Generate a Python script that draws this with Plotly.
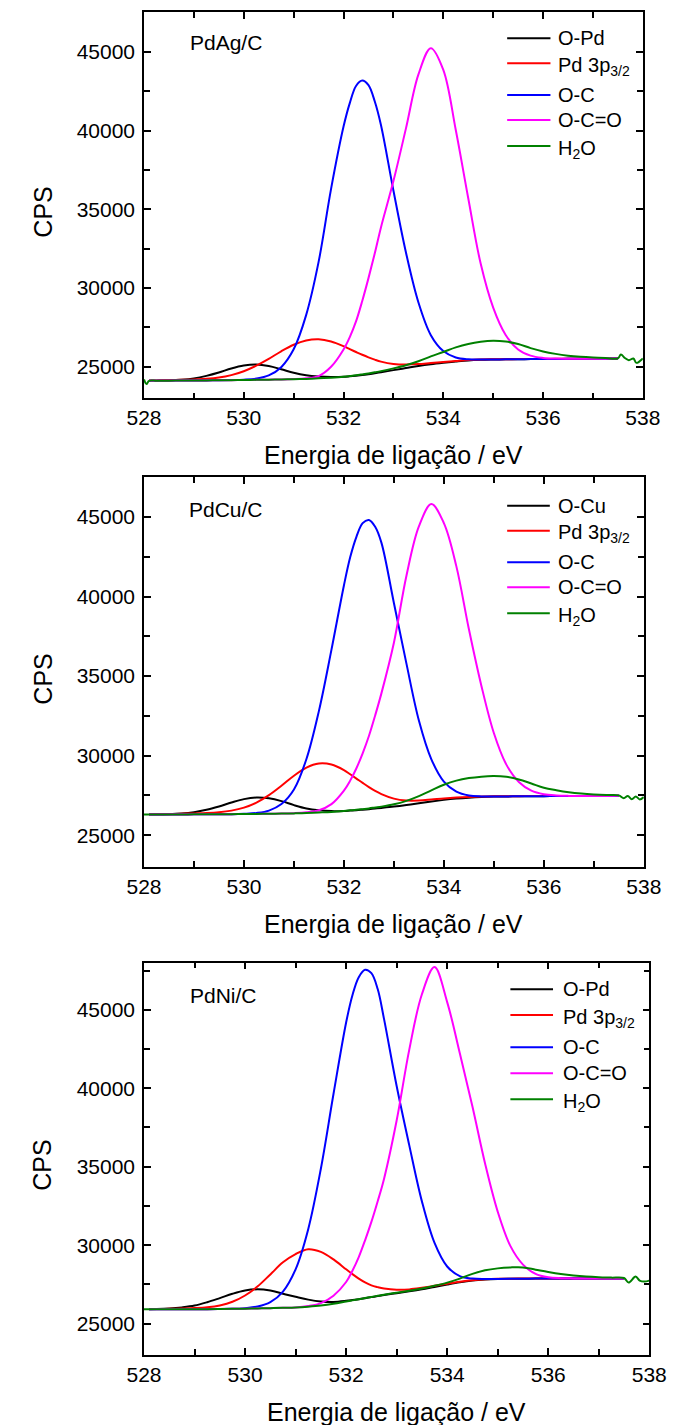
import numpy as np
import plotly.graph_objects as go

W, H = 685, 1425

# Binding energy grid (eV) shared by the fitted components
ENERGY = [528.1, 528.25, 528.5, 528.75, 529.0, 529.25, 529.5, 529.75, 530.0, 530.25,
          530.5, 530.75, 531.0, 531.25, 531.5, 531.75, 532.0,
          532.125, 532.25, 532.375, 532.5, 532.625, 532.75,
          533.0, 533.25, 533.5, 533.75, 534.0, 534.25, 534.5, 534.75, 535.0, 535.25,
          535.5, 535.75, 536.0, 536.25, 536.5, 536.75, 537.0, 537.25, 537.5]

# ---- PdAg/C : Shirley background and component intensities above it (CPS)
BG_PDAG = [24110, 24115, 24120, 24125, 24130, 24137, 24145, 24152, 24160, 24170,
           24180, 24195, 24210, 24232, 24260, 24300, 24350,
           24388, 24430, 24478, 24530, 24588, 24650,
           24790, 24920, 25050, 25160, 25250, 25330, 25400, 25440, 25460, 25472,
           25480, 25488, 25495, 25500, 25505, 25510, 25515, 25518, 25520]
OPD_PDAG = [2, 5, 18, 55, 135, 285, 490, 740, 920, 975,
            870, 650, 410, 230, 120, 50, 15,
            9, 5, 2, 0, 0, 0,
            0, 0, 0, 0, 0, 0, 0, 0, 0, 0,
            0, 0, 0, 0, 0, 0, 0, 0, 0]
PD3P_PDAG = [15, 20, 30, 45, 70, 100, 170, 320, 560, 900,
             1320, 1790, 2190, 2440, 2490, 2310, 1960,
             1735, 1510, 1285, 1070, 865, 680,
             390, 220, 120, 80, 55, 40, 30, 22, 15, 10,
             8, 6, 5, 4, 3, 2, 2, 1, 1]
OC_PDAG = [0, 0, 0, 0, 0, 0, 0, 5, 20, 80,
           270, 780, 1900, 4050, 7400, 12000, 15900,
           17350, 18400, 18700, 18350, 17270, 15700,
           11400, 7350, 4050, 1850, 750, 260, 75, 20, 5, 0,
           0, 0, 0, 0, 0, 0, 0, 0, 0]
OCO_PDAG = [0, 0, 0, 0, 0, 0, 0, 0, 0, 0,
            0, 0, 10, 40, 150, 700, 1750,
            2500, 3450, 4700, 6100, 7600, 9200,
            12000, 15200, 18500, 20070, 18600, 14700, 10300, 6100, 3300, 1550,
            620, 220, 70, 20, 5, 0, 0, 0, 0]
H2O_PDAG = [0, 0, 0, 0, 0, 0, 0, 0, 0, 0,
            0, 0, 0, 0, 5, 10, 20,
            25, 30, 40, 50, 62, 75,
            110, 180, 300, 500, 690, 900, 1050, 1150, 1190, 1130,
            970, 700, 480, 320, 200, 120, 70, 40, 20]
EDGE_L_X_PDAG = [528.0, 528.05]
EDGE_L_Y_PDAG = [24200, 23900]
EDGE_R_X_PDAG = [537.56, 537.64, 537.72, 537.81, 537.87, 538.0]
EDGE_R_Y_PDAG = [25780, 25560, 25420, 25530, 25250, 25530]

# ---- PdCu/C
BG_PDCU = [26300, 26300, 26303, 26306, 26310, 26314, 26318, 26323, 26330, 26337,
           26345, 26356, 26370, 26390, 26415, 26450, 26500,
           26530, 26560, 26597, 26635, 26675, 26715,
           26800, 26900, 27010, 27120, 27220, 27300, 27360, 27400, 27425, 27437,
           27445, 27450, 27455, 27458, 27461, 27464, 27467, 27470, 27472]
OCU_PDCU = [3, 7, 21, 59, 139, 282, 490, 731, 936, 1029,
            971, 787, 520, 290, 150, 65, 25,
            17, 10, 6, 3, 1, 0,
            0, 0, 0, 0, 0, 0, 0, 0, 0, 0,
            0, 0, 0, 0, 0, 0, 0, 0, 0]
PD3P_PDCU = [20, 25, 30, 40, 60, 80, 125, 220, 400, 710,
             1170, 1750, 2370, 2860, 3090, 2990, 2590,
             2300, 2000, 1690, 1390, 1110, 870,
             500, 280, 170, 120, 90, 65, 45, 30, 20, 15,
             10, 8, 6, 5, 4, 3, 2, 2, 1]
OC_PDCU = [0, 0, 0, 0, 0, 0, 0, 0, 15, 60,
           200, 600, 1500, 3400, 6400, 10200, 14200,
           15940, 17200, 18020, 18180, 17720, 16680,
           12800, 8900, 5200, 2650, 1150, 440, 140, 40, 10, 0,
           0, 0, 0, 0, 0, 0, 0, 0, 0]
OCO_PDCU = [0, 0, 0, 0, 0, 0, 0, 0, 0, 0,
            0, 0, 15, 50, 150, 500, 1300,
            1900, 2650, 3550, 4600, 5850, 7200,
            10300, 14400, 17400, 18700, 17400, 14600, 10600, 7000, 4000, 2000,
            900, 350, 120, 40, 10, 0, 0, 0, 0]
H2O_PDCU = [0, 0, 0, 0, 0, 0, 0, 0, 0, 0,
            0, 0, 0, 0, 10, 15, 25,
            30, 35, 42, 50, 65, 80,
            140, 260, 450, 700, 950, 1130, 1230, 1280, 1290, 1230,
            1060, 800, 530, 370, 240, 150, 90, 50, 30]
EDGE_L_X_PDCU = [528.0]
EDGE_L_Y_PDCU = [26300]
EDGE_R_X_PDCU = [537.6, 537.68, 537.76, 537.84, 537.92, 538.0]
EDGE_R_Y_PDCU = [27330, 27460, 27260, 27440, 27250, 27400]

# ---- PdNi/C
BG_PDNI = [25910, 25910, 25912, 25915, 25918, 25923, 25930, 25940, 25952, 25968,
           25985, 26005, 26030, 26080, 26150, 26260, 26400,
           26470, 26540, 26610, 26680, 26750, 26820,
           26940, 27060, 27190, 27340, 27490, 27630, 27740, 27805, 27840, 27855,
           27863, 27868, 27872, 27875, 27877, 27879, 27880, 27881, 27882]
OPD_PDNI = [10, 18, 50, 118, 230, 441, 697, 961, 1158, 1219,
            1121, 900, 680, 450, 260, 120, 50,
            33, 20, 13, 8, 4, 0,
            0, 0, 0, 0, 0, 0, 0, 0, 0, 0,
            0, 0, 0, 0, 0, 0, 0, 0, 0]
PD3P_PDNI = [15, 20, 30, 45, 70, 120, 230, 450, 840, 1410,
             2150, 2900, 3400, 3660, 3420, 2830, 2060,
             1683, 1330, 1020, 760, 575, 420,
             220, 120, 90, 70, 55, 40, 30, 20, 15, 12,
             8, 6, 5, 4, 3, 2, 2, 1, 1]
OC_PDNI = [0, 0, 0, 0, 0, 0, 0, 0, 35, 124,
           385, 1040, 2430, 4940, 8720, 13370, 17790,
           19460, 20540, 20940, 20650, 19570, 17600,
           13200, 9300, 5600, 2800, 1150, 400, 130, 40, 10, 0,
           0, 0, 0, 0, 0, 0, 0, 0, 0]
OCO_PDNI = [0, 0, 0, 0, 0, 0, 0, 0, 0, 0,
            0, 0, 0, 40, 160, 520, 1250,
            1900, 2700, 3700, 4800, 6050, 7400,
            11000, 15400, 18800, 20380, 18000, 14600, 11100, 7400, 4300, 2100,
            900, 300, 80, 20, 5, 0, 0, 0, 0]
H2O_PDNI = [0, 0, 0, 0, 0, 0, 0, 0, 0, 0,
            0, 0, 0, 0, 0, 0, 10,
            12, 15, 17, 20, 22, 25,
            30, 40, 50, 70, 120, 240, 430, 590, 680, 725,
            720, 570, 420, 290, 190, 120, 75, 50, 25]
EDGE_L_X_PDNI = [528.0]
EDGE_L_Y_PDNI = [25910]
EDGE_R_X_PDNI = [537.59, 537.73, 537.81, 537.9, 538.0]
EDGE_R_Y_PDNI = [27614, 27996, 27741, 27678, 27741]

SAMPLES = ["PdAg/C", "PdCu/C", "PdNi/C"]
LABELS_PDAG = ["O-Pd", "Pd 3p<sub>3/2</sub>", "O-C", "O-C=O", "H<sub>2</sub>O"]
LABELS_PDCU = ["O-Cu", "Pd 3p<sub>3/2</sub>", "O-C", "O-C=O", "H<sub>2</sub>O"]
LABELS_PDNI = ["O-Pd", "Pd 3p<sub>3/2</sub>", "O-C", "O-C=O", "H<sub>2</sub>O"]
COLORS = ["#000000", "#ff0000", "#0000ff", "#ff00ff", "#008000"]

X_TITLE = "Energia de ligação / eV"
Y_TITLE = "CPS"
X_RANGE = [528, 538]
Y_RANGES = [[23000, 47500], [23000, 47500], [23000, 48000]]

FONT = "Liberation Sans, Arial, Helvetica, sans-serif"

# plot-area boxes in pixels: (left, right, top, bottom)
BOXES = [(133, 659.5, 12.4, 398.3), (133, 660.5, 477.3, 867.0), (133, 666.3, 962.7, 1355.0)]
# sample tag position (px)
TAGS = [(179.5, 43.0), (178.7, 509.0), (179.7, 995.5)]
# axis title centres (px)
XTITLE_POS = [(396.3, 455.0), (396.8, 923.5), (399.6, 1412.0)]
YTITLE_POS = [(26.0, 212.0), (26.0, 679.0), (25.0, 1165.0)]
# legend: line start/end, text start, row centres (px)
LEGENDS = [
    dict(x0=516.3, x1=562.0, tx=568.0, rows=[38.3, 63.3, 95.0, 120.0, 146.0]),
    dict(x0=516.3, x1=561.3, tx=568.0, rows=[505.7, 530.7, 562.3, 587.3, 613.3]),
    dict(x0=519.7, x1=564.7, tx=573.0, rows=[989.3, 1015.0, 1047.3, 1073.3, 1099.3]),
]

panels = [
    dict(bg=BG_PDAG, comps=[OPD_PDAG, PD3P_PDAG, OC_PDAG, OCO_PDAG, H2O_PDAG],
         labels=LABELS_PDAG,
         edge=(EDGE_L_X_PDAG, EDGE_L_Y_PDAG, EDGE_R_X_PDAG, EDGE_R_Y_PDAG)),
    dict(bg=BG_PDCU, comps=[OCU_PDCU, PD3P_PDCU, OC_PDCU, OCO_PDCU, H2O_PDCU],
         labels=LABELS_PDCU,
         edge=(EDGE_L_X_PDCU, EDGE_L_Y_PDCU, EDGE_R_X_PDCU, EDGE_R_Y_PDCU)),
    dict(bg=BG_PDNI, comps=[OPD_PDNI, PD3P_PDNI, OC_PDNI, OCO_PDNI, H2O_PDNI],
         labels=LABELS_PDNI,
         edge=(EDGE_L_X_PDNI, EDGE_L_Y_PDNI, EDGE_R_X_PDNI, EDGE_R_Y_PDNI)),
]


def fx(px):
    return px / W


def fy(py):
    return 1 - py / H


fig = go.Figure()
layout = dict(
    width=W, height=H,
    margin=dict(l=0, r=0, t=0, b=0),
    paper_bgcolor="white", plot_bgcolor="white",
    showlegend=False,
    font=dict(family=FONT, color="black"),
)
shapes, annotations = [], []


def text_note(text, x, y, size, xanchor="left", angle=0):
    return dict(
        text=text, x=fx(x), y=fy(y), xref="paper", yref="paper",
        xanchor=xanchor, yanchor="middle", showarrow=False, textangle=angle,
        font=dict(family=FONT, size=size, color="black"),
    )


for i, p in enumerate(panels):
    suffix = "" if i == 0 else str(i + 1)
    xa, ya = "x" + suffix, "y" + suffix
    bg = np.array(p["bg"], dtype=float)
    for k, (comp, color) in enumerate(zip(p["comps"], COLORS)):
        x = list(ENERGY)
        y = list(bg + np.array(comp, dtype=float))
        if k == 4:
            lx, ly, rx, ry = p["edge"]
            x = list(lx) + x + list(rx)
            y = list(ly) + y + list(ry)
        fig.add_trace(go.Scatter(
            x=x, y=y, mode="lines", xaxis=xa, yaxis=ya,
            line=dict(color=color, width=2, shape="spline", smoothing=1.0),
            hoverinfo="skip",
        ))

    left, right, top, bottom = BOXES[i]
    axis_common = dict(
        showline=True, linecolor="black", linewidth=1.5, mirror="ticks",
        ticks="inside", ticklen=7, tickwidth=1.5, tickcolor="black",
        showgrid=False, zeroline=False,
        tickfont=dict(family=FONT, size=21, color="black"),
    )
    layout["xaxis" + suffix] = dict(
        axis_common,
        domain=[fx(left), fx(right)], anchor=ya,
        range=X_RANGE, tickmode="linear", tick0=528, dtick=2,
        minor=dict(ticks="inside", ticklen=6, tickwidth=1.5, tickcolor="black",
                   dtick=1, tick0=528, showgrid=False),
        ticklabelstandoff=0,
    )
    layout["yaxis" + suffix] = dict(
        axis_common,
        domain=[fy(bottom), fy(top)], anchor=xa,
        range=Y_RANGES[i], tickmode="linear", tick0=25000, dtick=5000,
        tickformat="d",
        minor=dict(ticks="inside", ticklen=6, tickwidth=1.5, tickcolor="black",
                   dtick=2500, tick0=25000, showgrid=False),
        ticklabelstandoff=3,
    )

    annotations.append(text_note(X_TITLE, *XTITLE_POS[i], 25, xanchor="center"))
    annotations.append(text_note(Y_TITLE, *YTITLE_POS[i], 25, xanchor="center", angle=-90))
    annotations.append(text_note(SAMPLES[i], *TAGS[i], 21))

    lg = LEGENDS[i]
    for label, color, row in zip(p["labels"], COLORS, lg["rows"]):
        shapes.append(dict(
            type="line", xref="paper", yref="paper",
            x0=fx(lg["x0"]), x1=fx(lg["x1"]), y0=fy(row), y1=fy(row),
            line=dict(color=color, width=2),
        ))
        shift = 3 if "<sub>" in label else 0
        annotations.append(text_note(label, lg["tx"], row + shift, 20))

layout["shapes"] = shapes
layout["annotations"] = annotations
fig.update_layout(**layout)

fig.write_html("out.html")
